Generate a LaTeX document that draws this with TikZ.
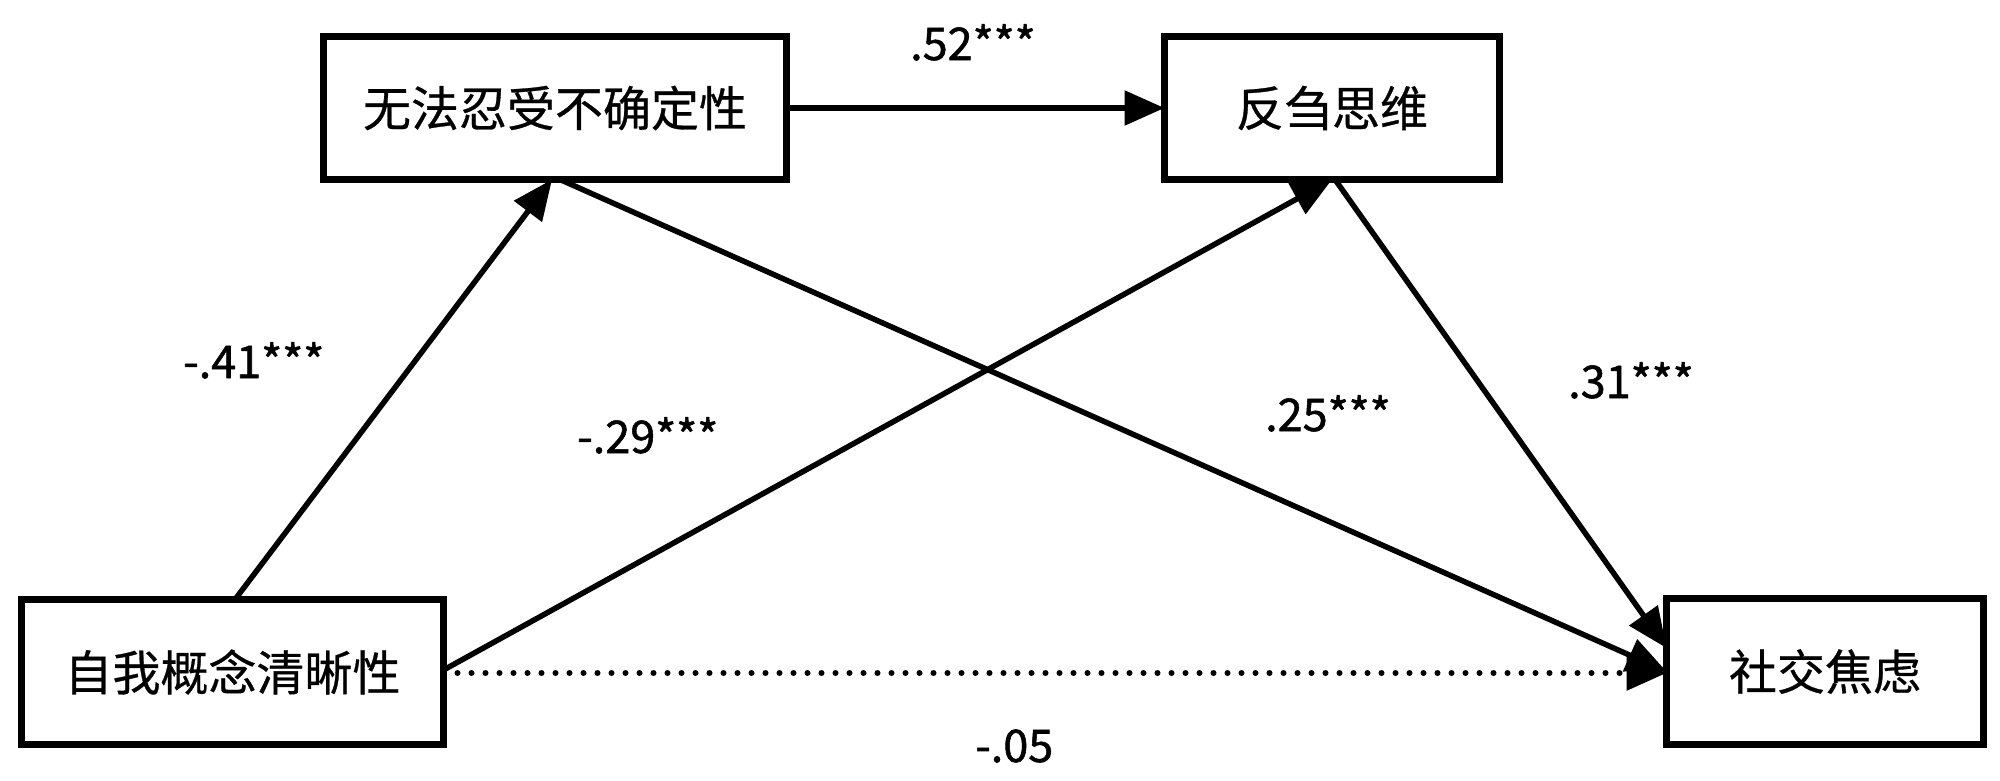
\documentclass[tikz,border=0pt]{standalone}
\usepackage{fontspec}
\setmainfont{Noto Sans CJK SC}
\newfontfamily\labfont[FakeBold=1.2]{Noto Sans CJK SC}
\newfontfamily\boxfont[FakeBold=0.6]{Noto Sans CJK SC}
\usetikzlibrary{arrows.meta}
\begin{document}
\begin{tikzpicture}[x=1pt,y=-1pt,
  box/.style={draw=black,line width=7pt,fill=white,inner sep=0pt,outer sep=0pt,font=\boxfont\fontsize{48}{54}\selectfont},
  arr/.style={line width=5.5pt,-{Triangle[length=40pt,width=34pt]}},
  dotline/.style={line width=6pt,line cap=round,dash pattern=on 0pt off 14pt,-{Triangle[length=40pt,width=34pt]}},
  lab/.style={font=\labfont\fontsize{45}{50}\selectfont,inner sep=0pt,anchor=base west}]
\useasboundingbox (0,0) rectangle (2000,780);
\fill[white] (0,0) rectangle (2000,780);
\node[box,minimum width=463pt,minimum height=143pt] (b1) at (555,108) {无法忍受不确定性};
\node[box,minimum width=335pt,minimum height=143pt] (b2) at (1332,108) {反刍思维};
\node[box,minimum width=422pt,minimum height=145pt] (b3) at (232.5,672) {自我概念清晰性};
\node[box,minimum width=317pt,minimum height=146pt] (b4) at (1825,671.5) {社交焦虑};
\draw[arr] (b1.east) -- (b2.west);
\draw[arr] ([xshift=2.5pt]b3.north) -- ([xshift=-3pt]b1.south);
\draw[arr] ([yshift=2pt]b3.east) -- (b2.south);
\draw[arr] ([xshift=5pt]b1.south) -- (b4.west);
\draw[arr] ([xshift=3pt]b2.south) -- ([yshift=23.5pt]b4.west);
\draw[dotline] ([yshift=-1pt]b3.east) -- ([yshift=-1.5pt]b4.west);
\node[lab] (l1) at (910,60) {.52***};
\node[lab] (l2) at (183,378) {-.41***};
\node[lab] (l3) at (577,453) {-.29***};
\node[lab] (l4) at (1265,431) {.25***};
\node[lab] (l5) at (1568,398) {.31***};
\node[lab] (l6) at (975,762) {-.05};
\end{tikzpicture}
\end{document}
